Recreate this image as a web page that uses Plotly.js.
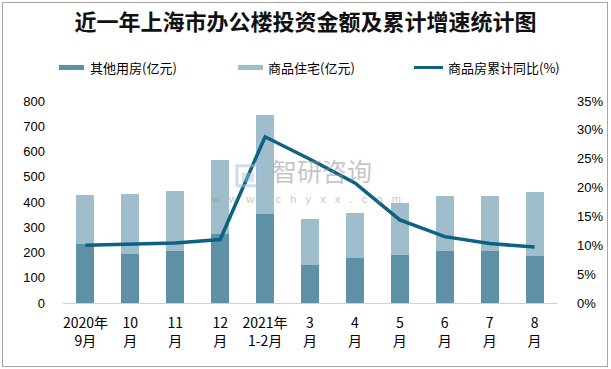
<!DOCTYPE html>
<html><head><meta charset="utf-8">
<script src="https://cdn.plot.ly/plotly-3.0.1.min.js"></script>
<style>body{margin:0;padding:0;background:#fff}#wrap{position:relative;width:611px;height:369px}#chart{width:611px;height:369px}#frame{position:absolute;left:2px;top:2px;width:604px;height:363px;border:1px solid #a6a6a6;pointer-events:none}</style>
</head><body><div id="wrap"><div id="chart"></div><div id="frame"></div></div>
<script>
var categories = ['2020年<br>9月','10<br>月','11<br>月','12<br>月','2021年<br>1-2月','3<br>月','4<br>月','5<br>月','6<br>月','7<br>月','8<br>月'];
var otherBuildings = [234,195,206,273,352,151,179,190,206,206,187];
var residential = [193,236,237,293,391,182,177,206,217,217,252];
var growthPct = [10.0,10.2,10.4,11.0,28.8,24.9,20.8,14.4,11.5,10.3,9.7];
var seriesNames = ['其他用房(亿元)','商品住宅(亿元)','商品房累计同比(%)'];

var cjk = '"Noto Sans CJK SC", "Liberation Sans", sans-serif';
var numFont = '"Liberation Sans", Arial, sans-serif';
var colOther = '#5e91a6', colRes = '#9fbdca', colLine = '#0b6282';

var traces = [
 {type:'bar', x:categories, y:otherBuildings, name:seriesNames[0], marker:{color:colOther}, showlegend:false},
 {type:'bar', x:categories, y:residential, name:seriesNames[1], marker:{color:colRes}, showlegend:false},
 {type:'scatter', mode:'lines', x:categories, y:growthPct, name:seriesNames[2], yaxis:'y2', line:{color:colLine, width:3.5}, showlegend:false}
];

// manual legend (paper coords relative to plot area)
var legY = 1.166;
var shapes = [
 {type:'rect', xref:'paper', yref:'paper', x0:-0.008, x1:0.0425, y0:legY-0.0125, y1:legY+0.0125, fillcolor:colOther, line:{width:0}},
 {type:'rect', xref:'paper', yref:'paper', x0:0.3543, x1:0.4049, y0:legY-0.0125, y1:legY+0.0125, fillcolor:colRes, line:{width:0}},
 {type:'line', xref:'paper', yref:'paper', x0:0.7105, x1:0.7692, y0:legY, y1:legY, line:{color:colLine, width:3}},
 // watermark icon
 {type:'rect', xref:'paper', yref:'paper', x0:0.352, x1:0.397, y0:0.58, y1:0.68, line:{color:'rgba(170,190,220,0.55)', width:3}, fillcolor:'rgba(0,0,0,0)'},
 {type:'rect', xref:'paper', yref:'paper', x0:0.362, x1:0.387, y0:0.60, y1:0.645, line:{width:0}, fillcolor:'rgba(170,190,220,0.45)'}
];
var legendText = [
 {x:0.0506, text:seriesNames[0]},
 {x:0.4109, text:seriesNames[1]},
 {x:0.7753, text:seriesNames[2]}
];
var annotations = legendText.map(function(d){
 return {text:d.text, xref:'paper', yref:'paper', x:d.x, y:legY, xanchor:'left', yanchor:'middle', showarrow:false, font:{family:cjk, size:13, color:'#000'}};
});
var sp = '\u00a0\u00a0\u00a0';
annotations.push({text:'智研咨询', xref:'paper', yref:'paper', x:0.524, y:0.559, xanchor:'center', yanchor:'bottom', showarrow:false, font:{family:cjk, size:25, color:'rgba(140,140,140,0.5)'}});
annotations.push({text:['w','w','w','.','c','h','y','x','x','.','c','o','m'].join(sp), xref:'paper', yref:'paper', x:0.492, y:0.554, xanchor:'center', yanchor:'top', showarrow:false, font:{family:numFont, size:11, color:'rgba(140,140,140,0.5)'}});

var layout = {
 width:611, height:369,
 margin:{l:63, r:54, t:101, b:66},
 paper_bgcolor:'#fff', plot_bgcolor:'#fff',
 barmode:'stack', bargap:0.6,
 title:{text:'<b>近一年上海市办公楼投资金额及累计增速统计图</b>', x:0.5, xanchor:'center', y:0.94, yanchor:'middle', font:{family:cjk, size:22, color:'#111'}},
 font:{family:cjk, size:12, color:'#000'},
 showlegend:false,
 xaxis:{showline:true, linecolor:'#d0d0d0', linewidth:1, ticks:'', tickfont:{family:cjk, size:14}, showgrid:false, ticklabelstandoff:7},
 yaxis:{range:[0,800], dtick:100, showgrid:false, zeroline:false, showline:false, tickfont:{family:numFont, size:13}, ticklabelstandoff:17},
 yaxis2:{range:[0,35], dtick:5, ticksuffix:'%', overlaying:'y', side:'right', showgrid:false, zeroline:false, showline:false, tickfont:{family:numFont, size:13}, ticklabelstandoff:19},
 shapes:shapes,
 annotations:annotations
};
Plotly.newPlot('chart', traces, layout, {displayModeBar:false, staticPlot:true});
</script></body></html>
